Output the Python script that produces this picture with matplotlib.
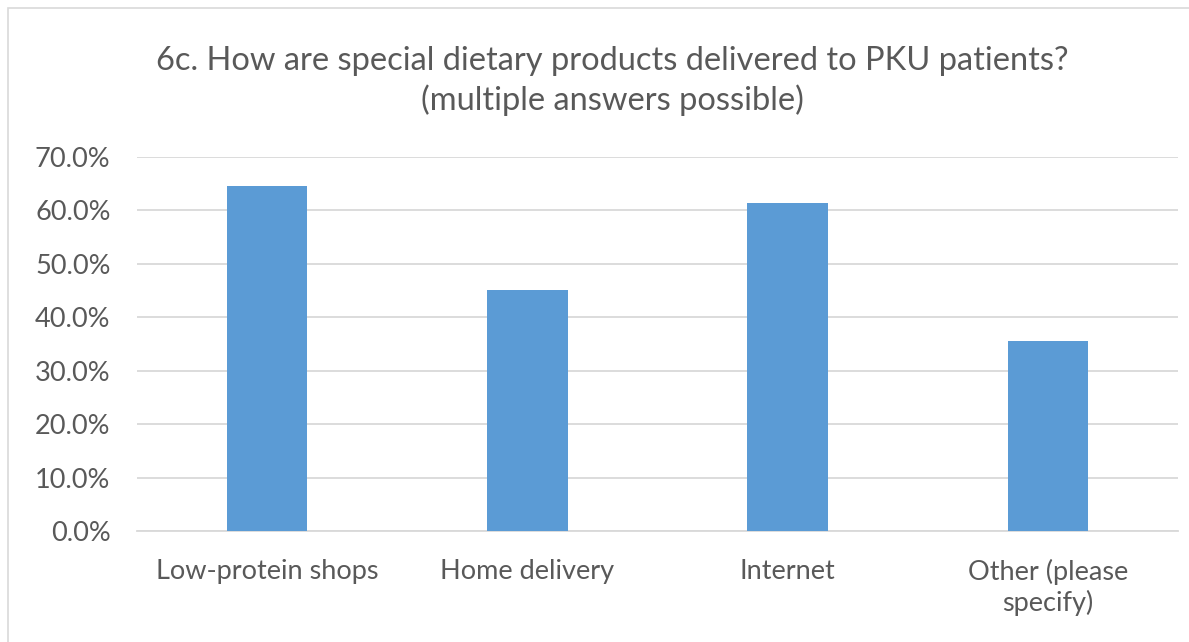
import matplotlib

matplotlib.use("Agg")

import matplotlib.pyplot as plt
from matplotlib.patches import Rectangle
from matplotlib.ticker import FuncFormatter, MultipleLocator

# data (share of respondents, %)
categories = ["Low-protein shops", "Home delivery", "Internet", "Other (please\nspecify)"]
shares = [64.5, 45.2, 61.3, 35.5]
title = "6c. How are special dietary products delivered to PKU patients?\n(multiple answers possible)"

BAR = "#5B9BD5"
GRID = "#D9D9D9"
TEXT = "#595959"

plt.rcParams["font.family"] = ["Lato", "DejaVu Sans"]

W, H = 1189, 642
fig = plt.figure(figsize=(W / 100, H / 100), dpi=100)

# chart frame (only left/top edges visible in the crop)
fig.add_artist(Rectangle((8 / W, -0.1), 1.2, 1 - 8 / H + 0.1, transform=fig.transFigure,
                         fill=False, edgecolor=GRID, linewidth=1.2))

ax = fig.add_axes([137 / W, 1 - 531 / H, (1178 - 137) / W, (531 - 157) / H])
x = range(len(categories))
ax.bar(x, shares, width=0.31, color=BAR, zorder=3)

ax.set_xlim(-0.5, len(categories) - 0.5)
ax.set_ylim(0, 70)
ax.yaxis.set_major_locator(MultipleLocator(10))
ax.yaxis.set_major_formatter(FuncFormatter(lambda v, _: f"{v:.1f}%"))
ax.grid(axis="y", color=GRID, linewidth=1.3, zorder=0)
ax.set_xticks(list(x))
ax.set_xticklabels(categories, linespacing=1.25)
ax.tick_params(axis="both", length=0, labelsize=19.5, labelcolor=TEXT)
ax.tick_params(axis="x", pad=20)
ax.tick_params(axis="y", pad=19)
for side in ("top", "right", "left"):
    ax.spines[side].set_visible(False)
ax.spines["bottom"].set_color(GRID)
ax.spines["bottom"].set_linewidth(1.3)

fig.text(612 / W, 1 - 81 / H, title, ha="center", va="center", fontsize=23.5,
         color=TEXT, linespacing=1.32)

fig.savefig("out.png", dpi=100, facecolor="white")
